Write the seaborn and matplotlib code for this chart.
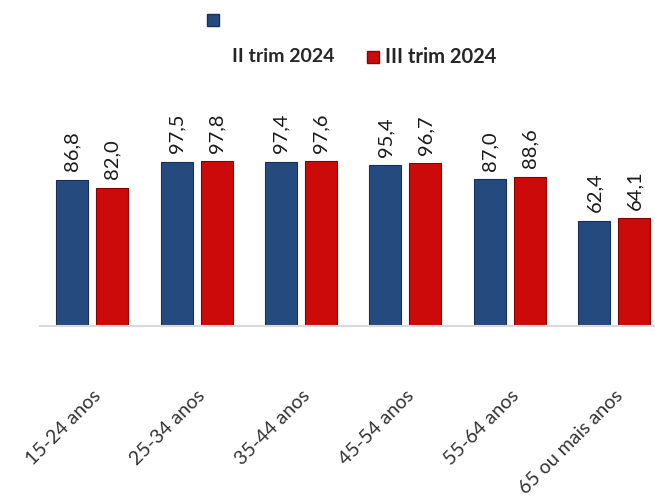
import pandas as pd
import matplotlib.pyplot as plt
import seaborn as sns
from matplotlib.patches import Rectangle

faixas = ["15-24 anos", "25-34 anos", "35-44 anos", "45-54 anos", "55-64 anos", "65 ou mais anos"]
trim2 = [86.8, 97.5, 97.4, 95.4, 87.0, 62.4]
trim3 = [82.0, 97.8, 97.6, 96.7, 88.6, 64.1]
series = ["II trim 2024", "III trim 2024"]

df = pd.DataFrame({
    "faixa": faixas * 2,
    "valor": trim2 + trim3,
    "serie": [series[0]] * len(faixas) + [series[1]] * len(faixas),
})

sns.set_style("white")
plt.rcParams['font.family'] = ['Lato', 'DejaVu Sans']

blue = "#254b7e"
red = "#cc0a0a"

fig = plt.figure(figsize=(6.55, 5.04), dpi=100)
ax = fig.add_axes([40 / 655, 178 / 504, 615 / 655, 236 / 504])

sns.barplot(data=df, x="faixa", y="valor", hue="serie", palette=[blue, red],
            saturation=1, width=0.766, gap=0.2, legend=False, ax=ax)

edges = ["#17305a", "#8a0000"]
for i, cont in enumerate(ax.containers):
    for b in cont:
        b.set_edgecolor(edges[i])
        b.set_linewidth(0.8)
    ax.bar_label(cont, labels=[f"{v:.1f}".replace(".", ",") for v in cont.datavalues],
                 rotation=90, padding=6, fontsize=14.5, color="#1a1a1a")

ax.set_ylim(0, 140)
ax.set_xlim(-0.5, 5.39)
ax.set_xlabel("")
ax.set_ylabel("")
ax.set_yticks([])
for s in ["top", "right", "left"]:
    ax.spines[s].set_visible(False)
ax.spines["bottom"].set_color("#d9d9d9")
ax.spines["bottom"].set_linewidth(1.5)
ax.tick_params(axis="x", length=0, pad=44)
plt.setp(ax.get_xticklabels(), rotation=45, ha="right", rotation_mode="anchor",
         fontsize=14, color="#333333")

# legenda
fig.patches.append(Rectangle((207 / 655, 1 - 26 / 504), 12 / 655, 12 / 504,
                             transform=fig.transFigure, facecolor=blue, edgecolor=edges[0]))
fig.patches.append(Rectangle((367 / 655, 1 - 63 / 504), 12 / 655, 12 / 504,
                             transform=fig.transFigure, facecolor=red, edgecolor=edges[1]))
fig.text(232 / 655, 1 - 57 / 504, series[0], fontsize=14, fontweight="bold", va="center")
fig.text(385 / 655, 1 - 57 / 504, series[1], fontsize=14.5, fontweight="bold", va="center")

plt.savefig("out.png", dpi=100)
